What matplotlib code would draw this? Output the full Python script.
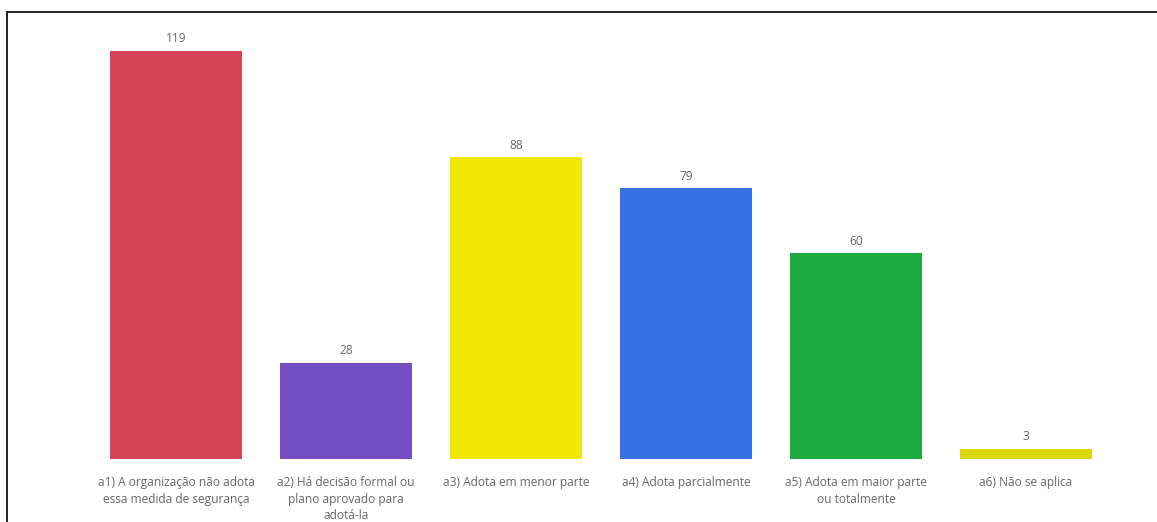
import matplotlib
matplotlib.use("Agg")
import matplotlib.pyplot as plt
from matplotlib.lines import Line2D

categories = [
    "a1) A organização não adota\nessa medida de segurança",
    "a2) Há decisão formal ou\nplano aprovado para\nadotá-la",
    "a3) Adota em menor parte",
    "a4) Adota parcialmente",
    "a5) Adota em maior parte\nou totalmente",
    "a6) Não se aplica",
]
values = [119, 28, 88, 79, 60, 3]
colors = ["#D64555", "#744EC2", "#EFE800", "#3672E3", "#1AAB40", "#DCD600"]

plt.rcParams['font.family'] = ['Open Sans', 'DejaVu Sans']

W, H = 1157, 522
fig = plt.figure(figsize=(W / 100, H / 100), dpi=100)

# axes: y=0 at pixel 459, top of axes at pixel 12
ax = fig.add_axes([0, (H - 459) / H, 1, (459 - 12) / H])
x = list(range(len(values)))
ax.bar(x, values, width=132 / 170, color=colors)
ax.set_xlim((0 - 176) / 170, (W - 176) / 170)
ax.set_ylim(0, 447 * 119 / 408)
ax.axis("off")

for xi, v in zip(x, values):
    ax.annotate(str(v), (xi, v), xytext=(0, 4), textcoords="offset points",
                ha="center", va="bottom", fontsize=8.6, color="#666666")

for xi, lab in zip(x, categories):
    ax.annotate(lab, (xi, 0), xytext=(0, -12.5), textcoords="offset points",
                ha="center", va="top", fontsize=8.6, color="#666666",
                linespacing=1.32)

# frame lines
fig.add_artist(Line2D([7 / W, 1], [1 - 12 / H, 1 - 12 / H], color="#222222", lw=1.4,
                      transform=fig.transFigure))
fig.add_artist(Line2D([7 / W, 7 / W], [0, 1 - 12 / H], color="#222222", lw=1.4,
                      transform=fig.transFigure))

fig.savefig("out.png", dpi=100, facecolor="white")
